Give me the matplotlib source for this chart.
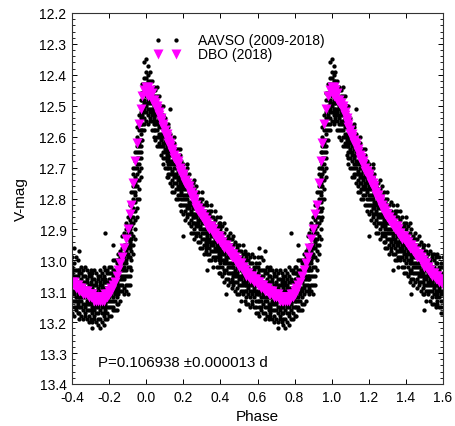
import numpy as np
import matplotlib
matplotlib.use("Agg")
import matplotlib.pyplot as plt
from matplotlib.ticker import MultipleLocator

plt.rcParams['font.family'] = ['Liberation Sans', 'DejaVu Sans']

# phase bins of the folded light curve (one cycle, step 0.01)
phase_bins = np.round(np.arange(0, 1, 0.01), 2)

# AAVSO magnitudes read per phase bin (0.00 ... 0.99)
aavso_mag = [
    [12.39, 12.41, 12.43, 12.44, 12.46, 12.47, 12.49, 12.50, 12.52, 12.55, 12.35],
    [12.40, 12.42, 12.44, 12.45, 12.46, 12.48, 12.49, 12.51, 12.53, 12.56, 12.37],
    [12.39, 12.42, 12.44, 12.46, 12.48, 12.49, 12.51, 12.52, 12.54, 12.55],
    [12.42, 12.45, 12.46, 12.48, 12.49, 12.51, 12.52, 12.53, 12.55, 12.58],
    [12.44, 12.45, 12.48, 12.50, 12.51, 12.53, 12.54, 12.56, 12.58, 12.60],
    [12.45, 12.47, 12.49, 12.50, 12.52, 12.53, 12.55, 12.56, 12.58, 12.61],
    [12.47, 12.49, 12.51, 12.52, 12.53, 12.55, 12.56, 12.58, 12.60, 12.63, 12.44],
    [12.47, 12.50, 12.52, 12.54, 12.56, 12.57, 12.59, 12.60, 12.62, 12.63],
    [12.50, 12.53, 12.54, 12.56, 12.57, 12.59, 12.60, 12.61, 12.63, 12.66],
    [12.53, 12.54, 12.57, 12.59, 12.60, 12.62, 12.63, 12.65, 12.67, 12.69, 12.50],
    [12.54, 12.56, 12.58, 12.59, 12.61, 12.62, 12.64, 12.65, 12.67, 12.70],
    [12.57, 12.59, 12.61, 12.62, 12.63, 12.65, 12.66, 12.68, 12.70, 12.73],
    [12.57, 12.60, 12.62, 12.64, 12.66, 12.67, 12.69, 12.70, 12.72, 12.73, 12.56],
    [12.59, 12.62, 12.63, 12.65, 12.66, 12.68, 12.69, 12.70, 12.72, 12.75, 12.51],
    [12.62, 12.63, 12.66, 12.68, 12.69, 12.71, 12.72, 12.74, 12.76, 12.78],
    [12.62, 12.64, 12.66, 12.67, 12.69, 12.70, 12.72, 12.73, 12.75, 12.78, 12.60],
    [12.64, 12.66, 12.68, 12.69, 12.70, 12.72, 12.73, 12.75, 12.77, 12.80],
    [12.64, 12.67, 12.69, 12.71, 12.73, 12.74, 12.76, 12.77, 12.79, 12.80],
    [12.66, 12.69, 12.70, 12.72, 12.73, 12.75, 12.76, 12.77, 12.79, 12.82, 12.64],
    [12.68, 12.69, 12.72, 12.74, 12.75, 12.77, 12.78, 12.80, 12.82, 12.84],
    [12.69, 12.71, 12.73, 12.74, 12.76, 12.77, 12.79, 12.80, 12.82, 12.85, 12.92],
    [12.71, 12.73, 12.75, 12.76, 12.77, 12.79, 12.80, 12.82, 12.84, 12.87],
    [12.70, 12.73, 12.75, 12.77, 12.79, 12.80, 12.82, 12.83, 12.85, 12.86, 12.69],
    [12.72, 12.75, 12.76, 12.78, 12.79, 12.81, 12.82, 12.83, 12.85, 12.88],
    [12.75, 12.76, 12.79, 12.81, 12.82, 12.84, 12.85, 12.87, 12.89, 12.91],
    [12.75, 12.77, 12.79, 12.80, 12.82, 12.83, 12.85, 12.86, 12.88, 12.91],
    [12.77, 12.79, 12.81, 12.82, 12.83, 12.85, 12.86, 12.88, 12.90, 12.93, 12.74],
    [12.76, 12.79, 12.81, 12.83, 12.85, 12.86, 12.88, 12.89, 12.91, 12.92],
    [12.78, 12.81, 12.82, 12.84, 12.85, 12.87, 12.88, 12.89, 12.91, 12.94],
    [12.80, 12.81, 12.84, 12.86, 12.87, 12.89, 12.90, 12.92, 12.94, 12.96],
    [12.80, 12.82, 12.84, 12.85, 12.87, 12.88, 12.90, 12.91, 12.93, 12.96, 12.78],
    [12.82, 12.84, 12.86, 12.87, 12.88, 12.90, 12.91, 12.93, 12.95, 12.98],
    [12.81, 12.84, 12.86, 12.88, 12.90, 12.91, 12.93, 12.94, 12.96, 12.97],
    [12.82, 12.85, 12.86, 12.88, 12.89, 12.91, 12.92, 12.93, 12.95, 12.98, 13.03],
    [12.84, 12.85, 12.88, 12.90, 12.91, 12.93, 12.94, 12.96, 12.98, 13.00],
    [12.84, 12.86, 12.88, 12.89, 12.91, 12.92, 12.94, 12.95, 12.97, 13.00, 12.82],
    [12.86, 12.88, 12.90, 12.91, 12.92, 12.94, 12.95, 12.97, 12.99, 13.02],
    [12.84, 12.87, 12.89, 12.91, 12.93, 12.94, 12.96, 12.97, 12.99, 13.00],
    [12.86, 12.89, 12.90, 12.92, 12.93, 12.95, 12.96, 12.97, 12.99, 13.02],
    [12.88, 12.89, 12.92, 12.94, 12.95, 12.97, 12.98, 13.00, 13.02, 13.04],
    [12.88, 12.90, 12.92, 12.93, 12.95, 12.96, 12.98, 12.99, 13.01, 13.04, 12.86],
    [12.89, 12.91, 12.93, 12.94, 12.95, 12.97, 12.98, 13.00, 13.02, 13.05],
    [12.88, 12.91, 12.93, 12.95, 12.97, 12.98, 13.00, 13.01, 13.03, 13.04, 13.07],
    [12.90, 12.93, 12.94, 12.96, 12.97, 12.99, 13.00, 13.01, 13.03, 13.06, 13.11],
    [12.92, 12.93, 12.96, 12.98, 12.99, 13.01, 13.02, 13.04, 13.06, 13.08],
    [12.91, 12.93, 12.95, 12.96, 12.98, 12.99, 13.01, 13.02, 13.04, 13.07],
    [12.93, 12.95, 12.97, 12.98, 12.99, 13.01, 13.02, 13.04, 13.06, 13.09],
    [12.92, 12.95, 12.97, 12.99, 13.01, 13.02, 13.04, 13.05, 13.07, 13.08],
    [12.94, 12.97, 12.98, 13.00, 13.01, 13.03, 13.04, 13.05, 13.07, 13.10],
    [12.95, 12.96, 12.99, 13.01, 13.02, 13.04, 13.05, 13.07, 13.09, 13.11],
    [12.95, 12.97, 12.99, 13.00, 13.02, 13.03, 13.05, 13.06, 13.08, 13.11, 13.16],
    [12.97, 12.99, 13.01, 13.02, 13.03, 13.05, 13.06, 13.08, 13.10, 13.13],
    [12.95, 12.98, 13.00, 13.02, 13.04, 13.05, 13.07, 13.08, 13.10, 13.11],
    [12.97, 13.00, 13.01, 13.03, 13.04, 13.06, 13.07, 13.08, 13.10, 13.13],
    [12.98, 12.99, 13.02, 13.04, 13.05, 13.07, 13.08, 13.10, 13.12, 13.14],
    [12.98, 13.00, 13.02, 13.03, 13.05, 13.06, 13.08, 13.09, 13.11, 13.14],
    [12.99, 13.01, 13.03, 13.04, 13.05, 13.07, 13.08, 13.10, 13.12, 13.15],
    [12.98, 13.01, 13.03, 13.05, 13.07, 13.08, 13.10, 13.11, 13.13, 13.14],
    [12.99, 13.02, 13.03, 13.05, 13.06, 13.08, 13.09, 13.10, 13.12, 13.15],
    [13.01, 13.02, 13.05, 13.07, 13.08, 13.10, 13.11, 13.13, 13.15, 13.17],
    [12.99, 13.02, 13.04, 13.05, 13.07, 13.08, 13.10, 13.11, 13.13, 13.17],
    [13.01, 13.03, 13.05, 13.07, 13.08, 13.10, 13.11, 13.13, 13.15, 13.18, 12.96],
    [12.99, 13.03, 13.05, 13.07, 13.09, 13.10, 13.12, 13.13, 13.15, 13.16],
    [13.00, 13.03, 13.05, 13.07, 13.08, 13.10, 13.11, 13.12, 13.14, 13.17],
    [13.03, 13.04, 13.07, 13.09, 13.10, 13.12, 13.13, 13.15, 13.17, 13.19, 12.97],
    [13.02, 13.04, 13.06, 13.07, 13.09, 13.10, 13.12, 13.13, 13.15, 13.18],
    [13.03, 13.05, 13.07, 13.08, 13.09, 13.11, 13.12, 13.14, 13.16, 13.19],
    [13.02, 13.05, 13.07, 13.09, 13.11, 13.12, 13.14, 13.15, 13.17, 13.18],
    [13.03, 13.06, 13.07, 13.09, 13.10, 13.12, 13.13, 13.14, 13.16, 13.19],
    [13.04, 13.05, 13.08, 13.10, 13.11, 13.13, 13.14, 13.16, 13.18, 13.20],
    [13.03, 13.05, 13.07, 13.08, 13.10, 13.11, 13.13, 13.14, 13.16, 13.19],
    [13.04, 13.06, 13.08, 13.09, 13.10, 13.12, 13.13, 13.15, 13.17, 13.20, 13.22],
    [13.03, 13.06, 13.08, 13.10, 13.12, 13.13, 13.15, 13.16, 13.18, 13.19],
    [13.04, 13.07, 13.08, 13.10, 13.11, 13.13, 13.14, 13.15, 13.17, 13.20],
    [13.05, 13.06, 13.09, 13.11, 13.12, 13.14, 13.15, 13.17, 13.19, 13.21],
    [13.03, 13.05, 13.07, 13.08, 13.10, 13.11, 13.13, 13.14, 13.16, 13.19, 13.22],
    [13.04, 13.06, 13.08, 13.09, 13.10, 13.12, 13.13, 13.15, 13.17, 13.20],
    [13.02, 13.05, 13.07, 13.09, 13.11, 13.12, 13.14, 13.15, 13.17, 13.18, 13.21],
    [13.03, 13.06, 13.07, 13.09, 13.10, 13.12, 13.13, 13.14, 13.16, 13.19, 12.91],
    [13.03, 13.04, 13.07, 13.09, 13.10, 13.12, 13.13, 13.15, 13.17, 13.19],
    [13.02, 13.04, 13.06, 13.07, 13.09, 13.10, 13.12, 13.13, 13.15, 13.18],
    [13.02, 13.04, 13.06, 13.07, 13.08, 13.10, 13.11, 13.13, 13.15, 13.18],
    [13.00, 13.03, 13.05, 13.07, 13.09, 13.10, 13.12, 13.13, 13.15, 13.16, 12.95],
    [13.00, 13.03, 13.04, 13.06, 13.07, 13.09, 13.10, 13.11, 13.13, 13.16],
    [13.00, 13.01, 13.04, 13.06, 13.07, 13.09, 13.10, 13.12, 13.14, 13.16],
    [12.98, 13.00, 13.02, 13.03, 13.05, 13.06, 13.08, 13.09, 13.11, 13.14],
    [12.97, 12.99, 13.01, 13.02, 13.03, 13.05, 13.06, 13.08, 13.10, 13.13],
    [12.92, 12.96, 12.98, 13.00, 13.02, 13.03, 13.05, 13.06, 13.08, 13.10],
    [12.91, 12.95, 12.96, 12.98, 12.99, 13.01, 13.02, 13.03, 13.05, 13.09, 13.06, 13.11],
    [12.90, 12.92, 12.95, 12.97, 12.98, 13.00, 13.01, 13.03, 13.05, 13.08, 13.10, 12.88],
    [12.86, 12.89, 12.91, 12.93, 12.95, 12.96, 12.98, 12.99, 13.02, 13.05, 13.08, 13.11],
    [12.85, 12.87, 12.89, 12.90, 12.91, 12.93, 12.94, 12.96, 12.99, 13.02, 13.05, 13.08, 12.82],
    [12.78, 12.82, 12.84, 12.86, 12.88, 12.89, 12.91, 12.93, 12.95, 12.97, 13.00, 13.03],
    [12.72, 12.76, 12.78, 12.80, 12.81, 12.83, 12.84, 12.86, 12.88, 12.92, 12.95, 12.98, 12.70],
    [12.68, 12.70, 12.73, 12.75, 12.76, 12.78, 12.79, 12.81, 12.84, 12.87, 12.90, 12.93, 12.65],
    [12.60, 12.63, 12.65, 12.67, 12.69, 12.70, 12.72, 12.74, 12.76, 12.80, 12.83, 12.86, 12.57],
    [12.56, 12.58, 12.61, 12.62, 12.63, 12.65, 12.67, 12.69, 12.71, 12.74, 12.77, 12.80, 12.53],
    [12.48, 12.52, 12.54, 12.56, 12.58, 12.59, 12.61, 12.63, 12.65, 12.67, 12.70, 12.73, 12.46],
    [12.43, 12.46, 12.48, 12.50, 12.51, 12.53, 12.54, 12.56, 12.58, 12.61],
    [12.41, 12.43, 12.46, 12.48, 12.49, 12.51, 12.52, 12.54, 12.56, 12.58, 12.36],
]

# DBO magnitudes per phase bin: upper (brighter) row of the band
dbo_mag = [
    12.44, 12.44, 12.45, 12.46, 12.48, 12.49, 12.50, 12.52, 12.54, 12.56,
    12.58, 12.59, 12.61, 12.62, 12.64, 12.66, 12.67, 12.68, 12.70, 12.71,
    12.72, 12.74, 12.75, 12.76, 12.78, 12.79, 12.80, 12.82, 12.83, 12.84,
    12.85, 12.86, 12.87, 12.88, 12.89, 12.89, 12.90, 12.91, 12.92, 12.92,
    12.93, 12.94, 12.95, 12.95, 12.96, 12.97, 12.98, 12.98, 12.99, 13.00,
    13.01, 13.01, 13.02, 13.03, 13.04, 13.04, 13.05, 13.05, 13.06, 13.06,
    13.07, 13.07, 13.08, 13.08, 13.09, 13.09, 13.10, 13.10, 13.10, 13.11,
    13.11, 13.11, 13.12, 13.12, 13.12, 13.12, 13.12, 13.12, 13.11, 13.11,
    13.10, 13.09, 13.08, 13.07, 13.05, 13.03, 13.01, 12.99, 12.96, 12.93,
    12.90, 12.85, 12.82, 12.75, 12.68, 12.62, 12.56, 12.51, 12.47, 12.45,
]

# DBO magnitudes per phase bin: lower (fainter) row of the band, none on the rise
dbo_mag_2 = [
    12.46, 12.47, 12.47, 12.48, 12.49, 12.50, 12.51, 12.53, 12.55, 12.57,
    12.59, 12.60, 12.62, 12.63, 12.65, 12.67, 12.68, 12.69, 12.71, 12.72,
    12.73, 12.75, 12.76, 12.77, 12.79, 12.80, 12.81, 12.83, 12.84, 12.85,
    12.86, 12.87, 12.88, 12.89, 12.90, 12.90, 12.91, 12.92, 12.93, 12.93,
    12.94, 12.95, 12.96, 12.96, 12.97, 12.98, 12.99, 12.99, 13.00, 13.01,
    13.02, 13.02, 13.03, 13.04, 13.05, 13.05, 13.06, 13.06, 13.07, 13.07,
    13.08, 13.08, 13.09, 13.09, 13.10, 13.10, 13.11, 13.11, 13.11, 13.12,
    13.12, 13.12, 13.13, 13.13, 13.13, 13.13, 13.13, 13.13, 13.12, 13.12,
    13.11, 13.10, np.nan, np.nan, np.nan, np.nan, np.nan, np.nan, np.nan, np.nan,
    np.nan, np.nan, np.nan, np.nan, np.nan, np.nan, np.nan, np.nan, np.nan, np.nan,
]

x_ticks = [-0.4, -0.2, 0.0, 0.2, 0.4, 0.6, 0.8, 1.0, 1.2, 1.4, 1.6]
y_ticks = [12.2, 12.3, 12.4, 12.5, 12.6, 12.7, 12.8, 12.9, 13.0, 13.1, 13.2, 13.3, 13.4]
period_text = "P=0.106938 \u00b10.000013 d"


def fold(phases, mags, lo=-0.4, hi=1.6):
    # repeat the folded cycle over the plotted phase range
    xs, ys = [], []
    for shift in (-1, 0, 1):
        p = np.asarray(phases) + shift
        keep = (p >= lo - 1e-9) & (p <= hi + 1e-9)
        xs.append(p[keep])
        ys.append(np.asarray(mags)[keep])
    return np.concatenate(xs), np.concatenate(ys)


a_ph = np.concatenate([[p] * len(m) for p, m in zip(phase_bins, aavso_mag)])
a_mg = np.concatenate(aavso_mag)
ax_a, ay_a = fold(a_ph, a_mg)
d_ph = np.concatenate([phase_bins, phase_bins])
d_mg = np.concatenate([dbo_mag, dbo_mag_2])
ax_d, ay_d = fold(d_ph, d_mg)

fig = plt.figure(figsize=(4.56, 4.27), dpi=100)
ax = fig.add_axes([72 / 456, 1 - 385 / 427, 371 / 456, 371 / 427])

ax.plot(ax_a, ay_a, 'o', ms=3.1, color='black', mec='none', label='AAVSO (2009-2018)')
ax.plot(ax_d, ay_d, 'v', ms=6.6, color='#ff00ff', mec='none', label='DBO (2018)')

ax.set_xlim(-0.4, 1.6)
ax.set_ylim(13.4, 12.2)
ax.set_xticks(x_ticks)
ax.set_xticklabels([f"{t:.1f}" for t in x_ticks])
ax.set_yticks(y_ticks)
ax.set_yticklabels([f"{t:.1f}" for t in y_ticks])
ax.yaxis.set_minor_locator(MultipleLocator(0.02))
ax.tick_params(which='both', direction='in', top=True, right=True, labelsize=10, pad=4)
ax.tick_params(which='major', length=3.5, width=0.7)
ax.tick_params(which='minor', length=2, width=0.6)
for s in ax.spines.values():
    s.set_linewidth(0.8)
    s.set_color('#333333')

ax.set_xlabel('Phase', fontsize=11, labelpad=4)
ax.set_ylabel('V-mag', fontsize=11, labelpad=8)

ax.text(0.07, 0.06, period_text, transform=ax.transAxes, fontsize=10.8, va='center')

ax.legend(loc='upper left', bbox_to_anchor=(0.19, 0.975), frameon=False, numpoints=2,
          fontsize=10, handlelength=1.9, handletextpad=1.3, labelspacing=0.0,
          borderpad=0.3, markerscale=1.0)

fig.savefig('out.png', dpi=100)
